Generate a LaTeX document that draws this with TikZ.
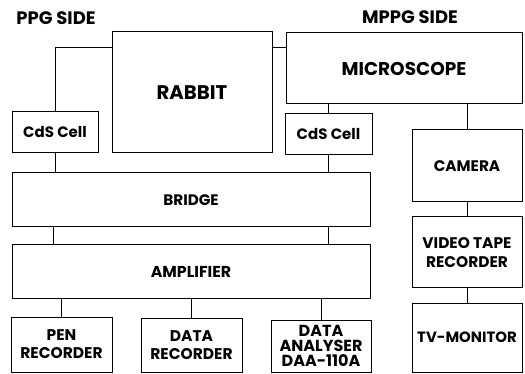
\documentclass[tikz,border=0pt]{standalone}
\usepackage{fontspec}
\setmainfont{Poppins}
\begin{document}
\begin{tikzpicture}[x=1pt,y=-1pt,
  box/.style={draw,line width=1pt,inner sep=0pt,align=center,font=\bfseries\fontsize{15}{18}\selectfont},
  wire/.style={line width=1pt},
  title/.style={font=\bfseries\fontsize{18}{20}\selectfont,inner sep=0pt}]
\useasboundingbox (0,0) rectangle (525,374);
\node[title] (ppg) at (56,18) {PPG SIDE};
\node[title] (mppg) at (410,17) {MPPG SIDE};
\node[box,minimum width=160pt,minimum height=121pt,font=\bfseries\fontsize{19.7}{22}\selectfont] (rabbit) at (192,92.5) {RABBIT};
\node[box,minimum width=236pt,minimum height=71pt,font=\bfseries\fontsize{18.5}{20}\selectfont] (micro) at (404,68.5) {MICROSCOPE};
\node[box,minimum width=86pt,minimum height=41pt] (cds1) at (55,132.5) {CdS Cell};
\node[box,minimum width=87pt,minimum height=41pt] (cds2) at (328.5,134.5) {CdS Cell};
\node[box,minimum width=110pt,minimum height=72pt,font=\bfseries\fontsize{15.3}{18}\selectfont] (camera) at (467,166) {CAMERA};
\node[box,minimum width=358pt,minimum height=54pt,font=\bfseries\fontsize{15.2}{18}\selectfont] (bridge) at (191,200) {BRIDGE};
\node[box,minimum width=358pt,minimum height=53pt,font=\bfseries\fontsize{15.8}{18}\selectfont] (amp) at (191,271.5) {AMPLIFIER};
\node[box,minimum width=101pt,minimum height=55pt,font=\bfseries\fontsize{15.5}{18}\selectfont] (pen) at (61.5,344.5) {PEN\\RECORDER};
\node[box,minimum width=101pt,minimum height=54pt,font=\bfseries\fontsize{15.5}{18}\selectfont] (datarec) at (191.5,345) {DATA\\RECORDER};
\node[box,minimum width=100pt,minimum height=52pt,font=\bfseries\fontsize{16}{15}\selectfont] (analyser) at (321,346) {DATA\\ANALYSER\\DAA-110A};
\node[box,minimum width=110pt,minimum height=71pt,font=\bfseries\fontsize{15.4}{19}\selectfont] (vtr) at (467,252.5) {VIDEO TAPE\\RECORDER};
\node[box,minimum width=110pt,minimum height=69pt,font=\bfseries\fontsize{14.9}{17}\selectfont] (tv) at (467,337.5) {TV-MONITOR};
% connectors
\draw[wire] (cds1.north) |- ([yshift=-16pt]rabbit.north west);
\draw[wire] ([yshift=-16pt]rabbit.north east) -- ([yshift=-16pt]rabbit.north east -| micro.west);
\draw[wire] (cds1.south) -- (cds1.south |- bridge.north);
\draw[wire] (cds2.north) -- (cds2.north |- micro.south);
\draw[wire] (cds2.south) -- (cds2.south |- bridge.north);
\draw[wire] (camera.north) -- (camera.north |- micro.south);
\draw[wire] ([xshift=-2pt]cds1.south |- bridge.south) -- ([xshift=-2pt]cds1.south |- amp.north);
\draw[wire] (cds2.south |- bridge.south) -- (cds2.south |- amp.north);
\draw[wire] (pen.north) -- (pen.north |- amp.south);
\draw[wire] (datarec.north) -- (datarec.north |- amp.south);
\draw[wire] (analyser.north) -- (analyser.north |- amp.south);
\draw[wire] (camera.south) -- (vtr.north);
\draw[wire] (vtr.south) -- (tv.north);
\end{tikzpicture}
\end{document}
